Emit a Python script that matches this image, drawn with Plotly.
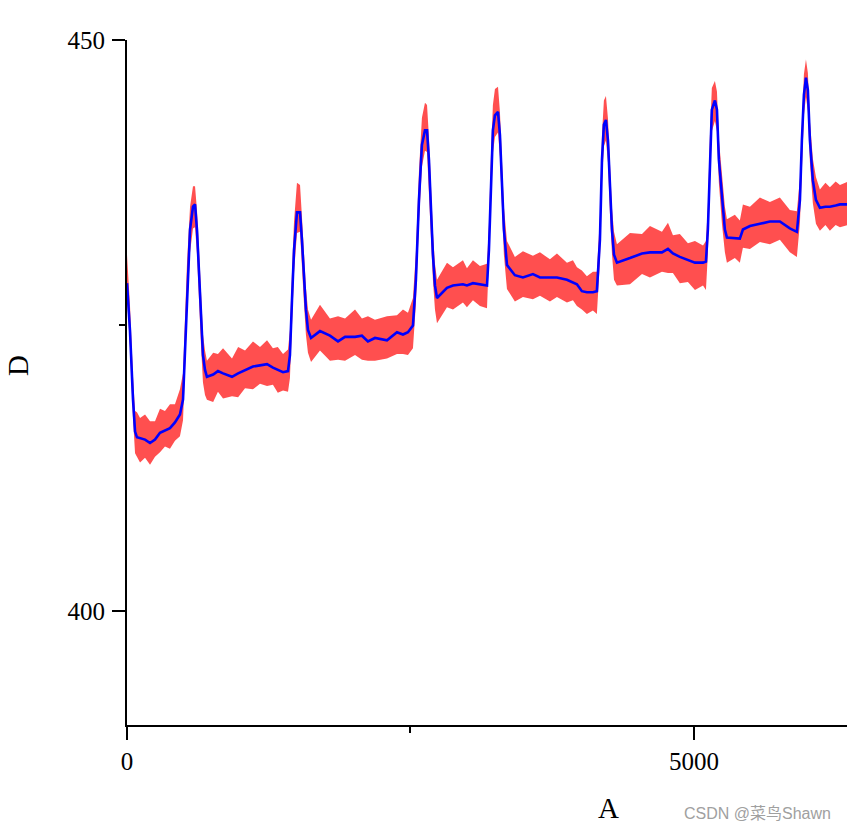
import plotly.graph_objects as go

# ---- data ----
a_vals = [0, 26, 53, 71, 88, 115, 159, 203, 247, 291,
          335, 379, 423, 467, 494, 511, 529, 556, 582, 600,
          617, 635, 653, 670, 688, 705, 760, 802, 847, 926,
          980, 1041, 1111, 1173, 1235, 1287, 1330, 1376, 1420, 1437,
          1455, 1473, 1499, 1526, 1543, 1561, 1578, 1596, 1623, 1702,
          1790, 1861, 1923, 2011, 2072, 2125, 2187, 2293, 2381, 2434,
          2478, 2522, 2548, 2575, 2601, 2628, 2646, 2663, 2681, 2698,
          2716, 2734, 2822, 2875, 2963, 2998, 3051, 3113, 3175, 3192,
          3210, 3227, 3245, 3272, 3289, 3307, 3324, 3351, 3421, 3492,
          3580, 3642, 3730, 3792, 3880, 3933, 3968, 4012, 4056, 4109,
          4144, 4171, 4189, 4206, 4224, 4242, 4259, 4277, 4295, 4321,
          4436, 4542, 4612, 4718, 4771, 4815, 4876, 4947, 5009, 5080,
          5106, 5123, 5141, 5158, 5185, 5203, 5220, 5247, 5273, 5291,
          5361, 5405, 5432, 5494, 5582, 5670, 5758, 5846, 5908, 5935,
          5952, 5970, 5988, 6005, 6023, 6049, 6076, 6111, 6160, 6199,
          6250, 6288, 6360]

d_mean = [428.7, 424.6, 418.5, 415.7, 415.2, 415.1, 415.0, 414.7, 415.0, 415.6,
          415.8, 416.0, 416.5, 417.2, 418.5, 422.9, 428.1, 433.4, 435.4, 435.6,
          433.4, 429.9, 425.5, 422.4, 421.1, 420.5, 420.7, 421.0, 420.8, 420.5,
          420.8, 421.1, 421.4, 421.5, 421.6, 421.3, 421.1, 420.9, 421.0, 422.4,
          427.2, 431.6, 434.9, 434.9, 432.5, 429.0, 426.4, 424.6, 423.9, 424.5,
          424.1, 423.6, 424.0, 424.0, 424.1, 423.6, 423.9, 423.7, 424.4, 424.2,
          424.4, 425.0, 429.0, 436.0, 440.8, 442.1, 442.1, 439.5, 435.1, 431.2,
          428.5, 427.4, 428.3, 428.5, 428.6, 428.5, 428.7, 428.6, 428.5, 431.6,
          437.7, 442.1, 443.4, 443.7, 441.7, 437.7, 433.4, 430.3, 429.4, 429.2,
          429.5, 429.2, 429.2, 429.2, 429.0, 428.8, 428.6, 428.0, 427.9, 427.9,
          428.0, 432.5, 439.5, 442.6, 443.0, 441.2, 436.9, 433.4, 431.2, 430.5,
          430.9, 431.3, 431.4, 431.4, 431.7, 431.3, 431.0, 430.7, 430.5, 430.5,
          430.6, 433.4, 439.5, 443.9, 444.7, 443.9, 439.5, 436.0, 433.4, 432.7,
          432.6, 432.6, 433.4, 433.7, 433.9, 434.1, 434.1, 433.5, 433.2, 436.0,
          441.2, 445.2, 446.7, 445.6, 441.2, 437.7, 436.0, 435.3, 435.4, 435.4,
          435.5, 435.6, 435.6]

spread_hi = [2.5, 2.2, 2.0, 1.8, 2.2, 1.8, 2.2, 1.9, 1.6, 2.1,
             1.7, 2.1, 1.6, 2.2, 2.3, 2.2, 2.3, 2.0, 1.8, 1.6,
             1.7, 1.9, 2.0, 1.8, 1.7, 1.4, 1.9, 1.5, 2.2, 1.6,
             2.3, 1.7, 2.2, 1.6, 2.1, 1.7, 2.0, 1.6, 1.9, 2.2,
             2.4, 2.5, 2.6, 2.4, 2.0, 1.8, 1.9, 1.8, 1.6, 2.3,
             1.5, 2.2, 1.6, 2.4, 1.5, 2.2, 1.6, 2.1, 1.5, 2.2,
             1.7, 2.4, 2.4, 2.5, 2.4, 2.4, 2.2, 2.0, 1.9, 2.0,
             1.9, 1.6, 2.2, 1.6, 2.1, 1.5, 2.0, 1.6, 1.9, 2.2,
             2.3, 2.2, 2.3, 2.2, 2.0, 1.9, 2.0, 2.1, 1.6, 2.3,
             1.6, 2.2, 1.6, 2.1, 1.5, 1.9, 1.5, 1.8, 1.4, 1.8,
             1.7, 2.0, 2.2, 2.1, 2.1, 1.9, 1.8, 1.9, 2.0, 1.6,
             2.2, 1.7, 2.3, 1.8, 2.3, 1.6, 2.0, 1.5, 1.9, 1.5,
             1.8, 2.0, 2.1, 1.9, 1.7, 1.6, 1.8, 1.9, 2.0, 1.6,
             2.1, 1.6, 2.2, 1.7, 2.3, 1.7, 2.1, 1.6, 1.8, 1.9,
             2.0, 1.8, 1.6, 1.5, 1.7, 1.9, 2.0, 1.6, 2.1, 1.7,
             2.1, 1.7, 2.0]

spread_lo = [1.2, 1.5, 1.6, 1.9, 1.7, 2.1, 1.6, 1.9, 1.5, 1.7,
             1.4, 1.8, 1.6, 1.9, 1.8, 2.0, 2.1, 2.0, 1.9, 2.0,
             2.1, 2.2, 2.3, 2.4, 2.2, 2.0, 2.4, 1.8, 2.2, 1.7,
             2.1, 1.6, 2.0, 1.6, 1.9, 1.5, 2.0, 1.6, 1.8, 2.0,
             2.2, 2.0, 1.8, 1.7, 1.9, 2.1, 2.2, 2.0, 2.1, 1.7,
             2.2, 1.6, 2.1, 1.6, 2.1, 1.7, 2.0, 1.6, 1.9, 1.7,
             2.0, 2.0, 2.1, 2.0, 1.9, 1.8, 1.9, 2.0, 2.1, 2.2,
             2.1, 2.2, 1.7, 2.1, 1.6, 1.9, 1.5, 1.9, 2.0, 2.0,
             2.1, 2.0, 1.9, 1.8, 1.9, 2.0, 2.2, 2.1, 2.3, 1.7,
             2.2, 1.6, 2.1, 1.7, 2.0, 1.6, 1.9, 1.6, 1.9, 1.6,
             2.0, 1.9, 2.0, 1.9, 1.8, 1.9, 2.0, 2.1, 2.2, 2.0,
             2.3, 1.8, 2.2, 1.7, 2.1, 1.7, 2.3, 1.9, 2.4, 2.0,
             2.5, 2.1, 2.0, 1.9, 1.8, 1.9, 2.0, 2.1, 2.0, 2.2,
             1.7, 2.1, 1.6, 2.0, 1.6, 2.0, 1.6, 2.1, 2.2, 2.0,
             1.9, 1.8, 1.7, 1.8, 1.9, 2.0, 2.1, 2.0, 1.6, 2.1,
             1.7, 2.0, 1.8]

x_ticks = [0, 5000]
x_minor = [2500]
y_ticks = [400, 450]
y_minor = [425]

# ---- figure ----
upper = [m + h for m, h in zip(d_mean, spread_hi)]
lower = [m - l for m, l in zip(d_mean, spread_lo)]

fig = go.Figure()
fig.add_trace(go.Scatter(
    x=a_vals + a_vals[::-1],
    y=upper + lower[::-1],
    fill="toself",
    fillcolor="#FF4F4F",
    line=dict(width=0, color="#FF4F4F"),
    mode="lines",
    hoverinfo="skip",
    showlegend=False,
))
fig.add_trace(go.Scatter(
    x=a_vals, y=d_mean, mode="lines",
    line=dict(color="#0000FF", width=2.6),
    showlegend=False,
))

serif = "Liberation Serif, Times New Roman, serif"
axis_font = dict(family=serif, size=25, color="black")

common = dict(showline=True, linecolor="black", linewidth=2, ticks="outside", ticklen=13, tickwidth=2,
              tickcolor="black", showgrid=False, zeroline=False, tickfont=axis_font)

fig.update_layout(
    width=847, height=831,
    margin=dict(l=127, r=0, t=40, b=106),
    paper_bgcolor="white", plot_bgcolor="white",
    xaxis=dict(
        range=[0, 6350], tickmode="array", tickvals=x_ticks, ticktext=[str(v) for v in x_ticks],
        minor=dict(tickmode="array", tickvals=x_minor, ticks="outside", ticklen=6, tickwidth=2,
                   tickcolor="black", showgrid=False),
        **common,
    ),
    yaxis=dict(
        range=[390, 450], tickmode="array", tickvals=y_ticks, ticktext=[str(v) for v in y_ticks],
        ticklabelstandoff=2,
        minor=dict(tickmode="array", tickvals=y_minor, ticks="outside", ticklen=6, tickwidth=2,
                   tickcolor="black", showgrid=False),
        **common,
    ),
    annotations=[
        dict(text="A", xref="paper", yref="paper", x=(608 - 127) / 720, y=-(808 - 725) / 685,
             showarrow=False, xanchor="center", yanchor="middle",
             font=dict(family=serif, size=29, color="black")),
        dict(text="D", xref="paper", yref="paper", x=-(127 - 18) / 720, y=(725 - 366) / 685,
             showarrow=False, xanchor="center", yanchor="middle", textangle=-90,
             font=dict(family=serif, size=29, color="black")),
        dict(text="CSDN @菜鸟Shawn", xref="paper", yref="paper", x=(833 - 127) / 720, y=-(813 - 725) / 685,
             showarrow=False, xanchor="right", yanchor="middle",
             font=dict(family="Liberation Sans, Arial, Noto Sans CJK SC, sans-serif", size=16, color="#a0a0a0")),
    ],
)

fig.write_html("out.html")
